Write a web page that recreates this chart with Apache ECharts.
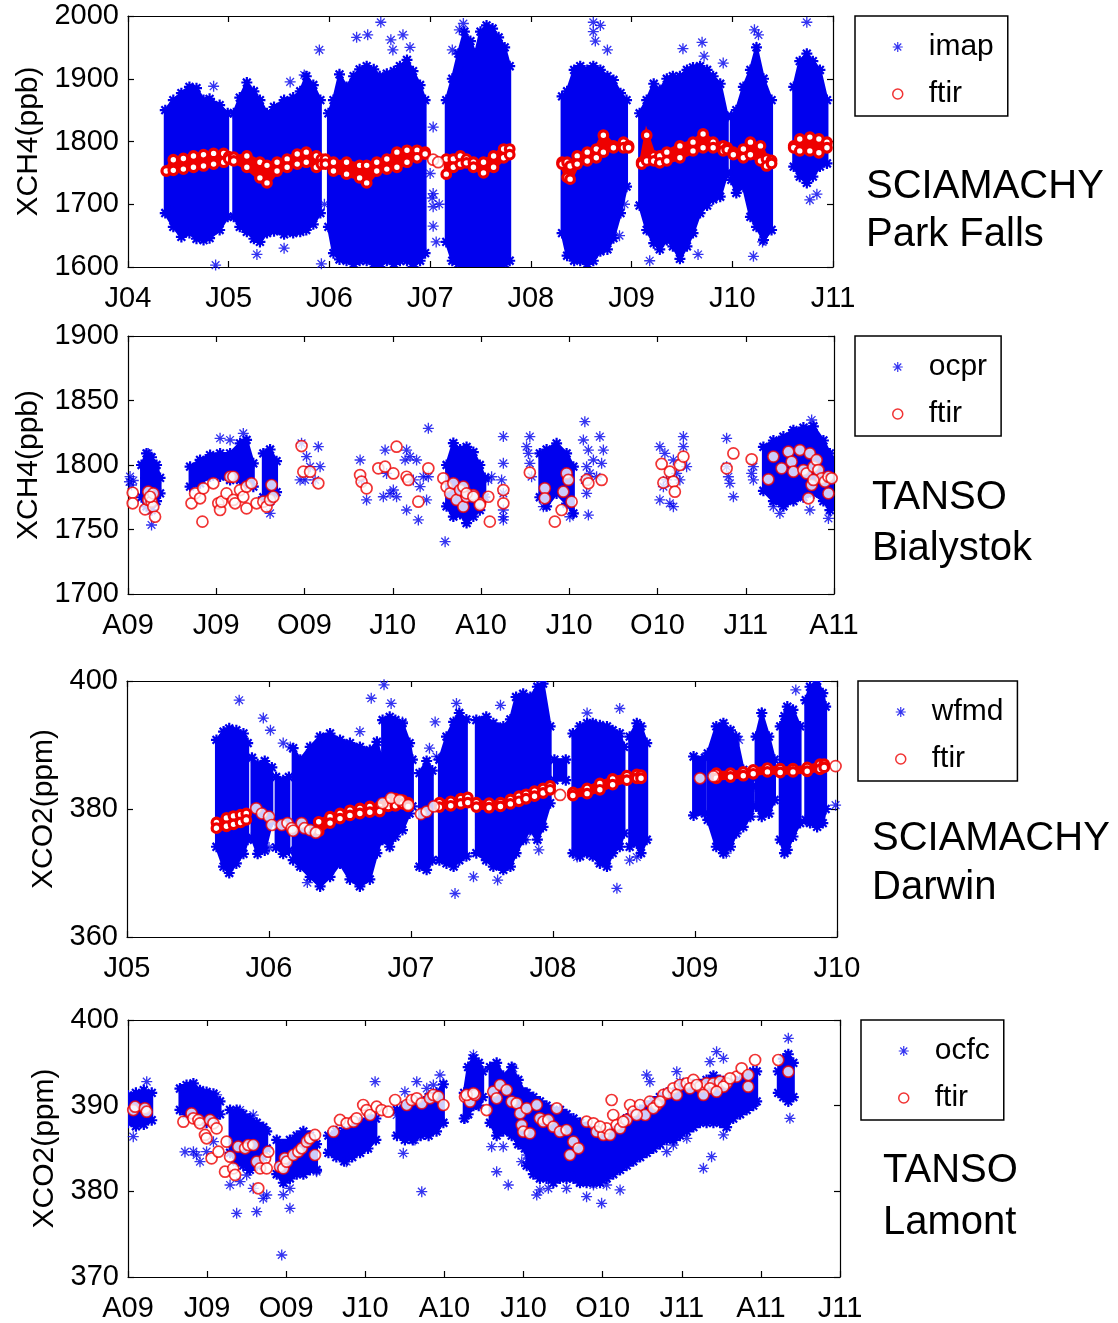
<!DOCTYPE html>
<html><head><meta charset="utf-8">
<script src="https://cdn.jsdelivr.net/npm/echarts@6/dist/echarts.min.js"></script>
<style>html,body{margin:0;padding:0;background:#fff}#c{width:1118px;height:1323px}</style>
</head><body><div id="c"></div>
<script>
// ---------------- DATA ----------------
// Panel 1: SCIAMACHY Park Falls, XCH4 (x = decimal year)
const pfXLabels = ['J04','J05','J06','J07','J08','J09','J10','J11'];
const pfYLabels = ['1600','1700','1800','1900','2000'];
// dense imap clouds: [year, low, high]
const pfImapClouds = [
 [[2004.37,1686,1850],[2004.45,1664,1866],[2004.53,1648,1877],[2004.61,1654,1887],[2004.68,1645,1885],[2004.75,1643,1866],[2004.81,1646,1868],[2004.91,1659,1858],[2004.99,1680,1845]],
 [[2005.05,1680,1845],[2005.11,1664,1870],[2005.18,1656,1894],[2005.25,1645,1880],[2005.31,1640,1866],[2005.38,1654,1845],[2005.45,1657,1855],[2005.55,1652,1866],[2005.64,1654,1870],[2005.71,1656,1880],[2005.77,1659,1904],[2005.84,1668,1890],[2005.91,1686,1866]],
 [[2005.99,1664,1845],[2006.04,1622,1866],[2006.10,1612,1907],[2006.17,1610,1887],[2006.24,1605,1904],[2006.30,1610,1915],[2006.37,1610,1920],[2006.44,1605,1915],[2006.50,1600,1904],[2006.57,1610,1908],[2006.64,1605,1912],[2006.70,1610,1920],[2006.77,1610,1930],[2006.83,1600,1912],[2006.90,1610,1890],[2006.95,1622,1866]],
 [[2007.16,1640,1866],[2007.22,1610,1900],[2007.28,1605,1940],[2007.34,1600,1975],[2007.40,1605,1960],[2007.45,1600,1940],[2007.50,1600,1975],[2007.56,1600,1985],[2007.62,1600,1980],[2007.68,1600,1966],[2007.74,1605,1950],[2007.79,1610,1920]],
 [[2008.31,1654,1872],[2008.36,1618,1880],[2008.43,1610,1914],[2008.49,1610,1920],[2008.56,1605,1914],[2008.62,1610,1920],[2008.69,1625,1914],[2008.76,1628,1904],[2008.82,1646,1898],[2008.89,1686,1877],[2008.95,1728,1866]],
 [[2009.08,1698,1845],[2009.15,1659,1866],[2009.22,1638,1892],[2009.28,1628,1882],[2009.35,1643,1900],[2009.41,1633,1904],[2009.48,1613,1904],[2009.55,1633,1914],[2009.61,1654,1918],[2009.68,1686,1920],[2009.75,1698,1914],[2009.81,1708,1904],[2009.88,1712,1892],[2009.95,1750,1840]],
 [[2009.99,1739,1840],[2010.04,1718,1850],[2010.11,1728,1887],[2010.18,1680,1914],[2010.24,1664,1950],[2010.31,1643,1900],[2010.39,1659,1866]],
 [[2010.61,1760,1887],[2010.67,1744,1928],[2010.74,1734,1940],[2010.80,1744,1928],[2010.87,1760,1914],[2010.94,1765,1866]]
];
const pfImapPoints = [[2004.85,1888],[2004.87,1603],[2004.42,1690],[2005.28,1620],[2005.55,1630],[2005.61,1895],[2005.75,1906],[2005.90,1946],[2005.92,1605],[2005.95,1700],[2006.27,1966],[2006.38,1970],[2006.51,1990],[2006.61,1962],[2006.73,1970],[2006.63,1946],[2006.80,1950],[2007.00,1749],[2007.03,1823],[2007.03,1717],[2007.03,1696],[2007.03,1665],[2007.06,1640],[2007.02,1710],[2007.09,1700],[2007.29,1978],[2007.22,1946],[2007.29,1914],[2007.33,1988],[2008.62,1990],[2008.62,1975],[2008.64,1960],[2008.69,1985],[2008.76,1946],[2008.88,1650],[2008.93,1700],[2009.51,1948],[2009.70,1958],[2009.72,1936],[2009.91,1925],[2009.66,1620],[2009.18,1610],[2010.22,1978],[2010.26,1970],[2010.21,1617],[2010.30,1640],[2010.74,1990],[2010.77,1707],[2010.84,1716]];
// ftir band: [year, low, high] of circle centres
const pfFtirBands = [
 [[2004.38,1753,1753],[2004.45,1754,1771],[2004.55,1756,1773],[2004.65,1759,1777],[2004.75,1761,1779],[2004.85,1764,1781],[2004.95,1767,1781],[2005.00,1772,1776]],
 [[2005.05,1769,1775],[2005.18,1759,1777],[2005.31,1742,1767],[2005.38,1734,1762],[2005.48,1753,1767],[2005.58,1759,1772],[2005.68,1764,1780],[2005.77,1767,1783],[2005.87,1759,1777],[2005.92,1764,1772]],
 [[2005.96,1764,1772],[2006.04,1753,1767],[2006.17,1748,1767],[2006.30,1742,1762],[2006.37,1734,1762],[2006.47,1753,1767],[2006.57,1756,1772],[2006.67,1759,1783],[2006.77,1767,1786],[2006.87,1774,1786],[2006.95,1780,1783]],
 [[2007.16,1748,1772],[2007.23,1759,1772],[2007.30,1764,1777],[2007.36,1766,1772],[2007.43,1759,1767],[2007.53,1750,1767],[2007.63,1759,1777],[2007.73,1774,1788],[2007.79,1779,1788]],
 [[2008.31,1764,1767],[2008.36,1743,1767],[2008.39,1740,1761],[2008.46,1764,1777],[2008.56,1769,1783],[2008.65,1774,1788],[2008.72,1783,1810],[2008.82,1790,1793],[2008.92,1790,1799],[2008.97,1790,1793]],
 [[2009.10,1764,1767],[2009.15,1769,1810],[2009.22,1769,1777],[2009.28,1766,1777],[2009.35,1769,1783],[2009.48,1774,1793],[2009.61,1785,1799],[2009.71,1790,1812],[2009.81,1790,1799],[2009.91,1785,1793],[2009.95,1787,1790]],
 [[2010.01,1779,1783],[2010.11,1774,1788],[2010.18,1779,1799],[2010.28,1769,1793],[2010.34,1761,1772],[2010.39,1765,1770]],
 [[2010.61,1790,1793],[2010.67,1785,1804],[2010.77,1785,1807],[2010.86,1782,1804],[2010.94,1790,1799]]
];
const pfFtirPoints = [[2007.03,1771],[2007.08,1767]];

// Panel 2: TANSO Bialystok, XCH4 (x = months since Jan 2009)
const biXLabels = ['A09','J09','O09','J10','A10','J10','O10','J11','A11'];
const biYLabels = ['1700','1750','1800','1850','1900'];
const biOcprClouds = [
 [[3.46,1775,1800],[3.63,1768,1809],[3.80,1765,1806],[3.97,1772,1800],[4.09,1778,1790]],
 [[5.11,1783.2,1798.7],[5.45,1785.8,1803.9],[5.79,1791,1807.7],[6.13,1791,1809],[6.47,1788.4,1809],[6.81,1788.4,1816.8],[7.03,1785.8,1819.4],[7.26,1783.2,1801.3]],
 [[7.60,1775,1809],[7.83,1772,1812],[8.05,1779,1803]],
 [[13.83,1768,1800],[14.06,1760,1817],[14.29,1762,1812],[14.51,1755,1814],[14.74,1760,1810],[14.96,1765,1800],[15.13,1775,1790]],
 [[17.0,1775,1809],[17.23,1768,1812],[17.57,1778,1816.8],[17.91,1770,1809],[18.14,1762.5,1798.7]],
 [[24.60,1780,1814],[24.94,1772,1819],[25.28,1768,1822],[25.62,1772,1827],[25.96,1775,1829],[26.30,1778,1830],[26.64,1772,1819],[26.86,1765,1809],[27.0,1770,1803]]
];
const biOcprPoints = [[3.07,1791],[3.18,1788],[3.12,1784.5],[3.05,1787],[3.80,1753.5],[3.69,1809],
 [6.13,1820.7],[6.47,1819.4],[6.92,1824.5],[7.83,1762.5],[7.71,1809],
 [8.90,1816.8],[9.07,1806.5],[9.19,1798.7],[9.47,1814.2],[9.53,1798.7],[8.85,1788.4],[9.36,1788.4],[9.02,1788.4],
 [10.89,1803.9],[11.11,1772.9],[10.94,1788.4],
 [11.74,1811.6],[11.79,1793.5],[11.68,1775.4],[12.02,1780.6],[12.13,1775.4],[12.42,1803.9],[12.47,1811.6],[12.59,1806.5],[12.81,1803.9],[12.47,1765.1],[12.87,1757.4],[12.70,1788.4],[12.93,1783.2],[13.15,1772.9],[13.21,1828.4],[13.04,1790.9],[13.21,1790.9],[11.91,1778],
 [13.78,1740.6],
 [15.25,1788.4],[15.36,1790.9],[15.76,1822],[15.76,1801.3],[15.70,1788.4],[15.76,1778],[15.76,1765.1],[15.76,1757.4],[15.76,1759.9],
 [16.66,1822],[16.61,1809],[16.66,1801.3],[16.72,1790.9],[16.55,1814.2],
 [18.02,1759.9],[17.12,1767.7],
 [18.53,1833.6],[18.48,1819.4],[18.65,1811.6],[18.59,1798.7],[18.82,1803.9],[19.04,1822],[19.16,1811.6],[19.10,1801.3],[18.59,1778],[18.65,1761.2],[18.93,1790.9],[18.53,1788.4],[18.70,1793.5],
 [21.08,1814.2],[21.25,1809],[21.54,1803.9],[21.88,1822],[21.88,1814.2],[21.65,1793.5],[21.31,1788.4],[21.08,1772.9],[21.42,1770.3],[21.54,1767.7],[21.99,1798.7],[21.20,1783.2],[21.76,1788.4],
 [23.35,1820.7],[23.35,1798.7],[23.46,1785.8],[23.58,1775.4],[23.41,1790.9],
 [24.26,1798.7],[24.26,1788.4],[24.20,1793.5],
 [26.24,1834.9],[24.94,1767.7],[25.16,1762.5],[26.18,1765.1],[26.81,1758.6]];
const biFtirBands = [];
const biFtirPoints = [[3.16,1778.5],[3.16,1770.3],[3.58,1765.6],[3.69,1779.3],[3.69,1772.9],[3.80,1771.6],[3.86,1767.7],[3.92,1759.9],[3.86,1778.0],[3.75,1775.4],
 [5.16,1770.3],[5.28,1778.0],[5.45,1774.2],[5.56,1781.9],[5.53,1756.1],[5.90,1785.8],[6.07,1770.3],[6.13,1765.1],[6.18,1771.6],[6.35,1778.0],[6.47,1790.9],[6.58,1790.9],[6.58,1772.9],[6.64,1770.3],[6.81,1780.6],[6.92,1775.4],[7.03,1783.2],[7.03,1766.4],[7.20,1785.8],[7.37,1770.3],[7.60,1771.6],[7.71,1767.7],[7.83,1772.9],[7.88,1784.5],[7.94,1775.4],
 [8.90,1814.7],[8.96,1794.8],[9.19,1794.8],[9.47,1785.8],
 [10.89,1792.2],[10.94,1787.1],[11.11,1781.9],[11.51,1797.4],[11.74,1798.7],[12.02,1793.5],[12.13,1814.2],[12.47,1790.9],[12.53,1788.4],[12.87,1771.6],[13.21,1797.4],
 [13.72,1789.7],[13.83,1783.2],[13.95,1778.0],[14.06,1785.8],[14.17,1772.9],[14.29,1780.6],[14.40,1767.7],[14.51,1775.4],[14.74,1776.7],[14.97,1770.3],
 [14.40,1783.2],[14.51,1778.0],[14.74,1775.4],[14.96,1769.0],[15.25,1775.4],[15.30,1756.1],[15.76,1780.6],[15.76,1770.3],
 [16.66,1794.1],[17.17,1781.9],[17.17,1774.2],[17.74,1765.1],[17.51,1756.1],[17.80,1779.3],[17.91,1793.5],[17.97,1788.4],[18.08,1771.6],[18.59,1788.4],[18.65,1785.8],[19.10,1788.4],
 [21.14,1800.8],[21.20,1786.3],[21.42,1794.8],[21.54,1787.1],[21.59,1779.3],[21.76,1800.0],[21.88,1806.5],
 [23.35,1797.4],[23.58,1809.0],[24.20,1804.4],
 [24.77,1788.9],[24.94,1806.5],[25.22,1797.4],[25.45,1810.3],[25.56,1802.6],[25.62,1794.8],[25.84,1811.6],[25.96,1796.1],[26.07,1793.5],[26.18,1809.0],[26.24,1784.5],[26.30,1798.7],[26.41,1803.9],[26.47,1796.1],[26.58,1789.7],[26.69,1787.1],[26.81,1790.9],[26.81,1778.0],[26.92,1789.7],[26.13,1774.2],[26.30,1788.4]];

// Panel 3: SCIAMACHY Darwin, XCO2 (x = decimal year)
const daXLabels = ['J05','J06','J07','J08','J09','J10'];
const daYLabels = ['360','380','400'];
const daWfmdClouds = [
 [[2005.63,374.1,390.8],[2005.68,371.0,392.1],[2005.72,370.0,392.6],[2005.77,371.5,392.3],[2005.82,373.0,391.8],[2005.85,375.2,390.3]],
 [[2005.88,375.5,388.0],[2005.92,373.0,387.0],[2005.97,373.5,387.5],[2006.02,378.0,386.5]],
 [[2006.05,374.0,385.0],[2006.10,373.0,384.5],[2006.14,373.5,385.0]],
 [[2006.17,372.0,389.5],[2006.22,371.0,387.7],[2006.29,369.4,389.7],[2006.36,367.9,391.3],[2006.43,369.4,391.8],[2006.50,371.5,390.8],[2006.57,369.0,390.3],[2006.64,367.9,389.7],[2006.71,369.0,389.2],[2006.76,373.1,390.5],[2006.79,375.2,388.0]],
 [[2006.80,375.2,393.9],[2006.85,374.1,394.4],[2006.89,375.7,393.9],[2006.94,376.7,393.4],[2006.99,379.3,390.3],[2007.01,380.4,387.7]],
 [[2007.06,371.0,385.6],[2007.11,370.5,387.5],[2007.15,372.0,386.0]],
 [[2007.20,372.0,387.7],[2007.25,371.5,391.3],[2007.30,371.0,393.6],[2007.34,372.0,395.0],[2007.39,372.6,394.0]],
 [[2007.46,373.1,393.9],[2007.53,372.0,394.4],[2007.58,371.0,393.4],[2007.65,370.5,392.9],[2007.70,371.0,394.0],[2007.74,373.1,397.5],[2007.79,375.2,398.0],[2007.84,376.7,397.5],[2007.89,375.2,399.1],[2007.93,377.2,399.6],[2007.98,380.9,392.9]],
 [[2008.01,384.5,387.7],[2008.09,384.5,387.7]],
 [[2008.14,373.1,391.8],[2008.19,372.6,392.9],[2008.24,373.1,393.4],[2008.28,372.6,393.4],[2008.33,371.5,393.1],[2008.38,371.0,392.9],[2008.42,373.1,392.3],[2008.47,374.1,391.8],[2008.50,376.2,389.7]],
 [[2008.54,374.1,391.3],[2008.59,374.6,393.4],[2008.62,373.1,392.9],[2008.66,375.2,390.3]],
 [[2008.99,379.0,388.2],[2009.07,379.3,388.0]],
 [[2009.09,378.3,388.7],[2009.15,374.1,392.9],[2009.20,373.1,393.4],[2009.25,374.1,392.3],[2009.29,376.2,391.3],[2009.34,377.2,386.1],[2009.39,378.8,384.5],[2009.41,380.4,383.5]],
 [[2009.43,380.4,391.3],[2009.47,378.8,395.0],[2009.52,379.3,391.3],[2009.56,381.4,387.7]],
 [[2009.60,375.2,392.9],[2009.63,373.1,394.5],[2009.65,373.6,396.0],[2009.69,375.7,395.5],[2009.74,377.8,392.9]],
 [[2009.78,378.3,397.0],[2009.81,377.8,399.1],[2009.86,377.2,400.0],[2009.90,377.8,398.1],[2009.92,380.0,396.0]]
];
const daWfmdPoints = [[2005.79,397.0],[2005.96,394.2],[2006.01,392.3],[2006.10,390.3],[2006.15,389.7],[2006.64,392.1],[2006.72,397.3],[2006.81,399.4],[2006.86,396.5],[2006.94,393.6],[2007.17,393.6],[2007.13,389.5],[2007.32,396.5],[2007.31,366.8],[2007.18,388.2],[2007.44,369.4],[2007.61,368.9],[2007.63,396.2],[2007.90,373.6],[2007.81,375.2],[2008.24,395.0],[2008.47,395.7],[2008.45,367.6],[2008.54,372.0],[2008.17,372.5],[2008.59,372.5],[2009.71,398.6],[2009.99,380.6],[2009.47,395.0],[2009.31,390.8],[2009.22,373.1],[2006.00,374.0],[2006.27,368.5]];
const daFtirBands = [
 [[2005.63,377.0,377.9],[2005.70,377.3,378.6],[2005.75,377.6,378.9],[2005.80,377.9,379.1],[2005.84,378.3,379.3]],
 [[2006.35,376.5,378.0],[2006.43,377.8,378.8],[2006.50,378.5,379.3],[2006.57,379.0,379.8],[2006.64,379.3,380.1],[2006.71,379.5,380.4],[2006.78,379.6,380.4]],
 [[2006.84,380.4,381.2],[2006.89,380.5,381.6],[2006.94,380.8,381.4],[2006.98,380.4,381.0]],
 [[2007.20,380.3,381.0],[2007.28,380.5,381.2],[2007.35,380.8,381.6],[2007.40,381.0,381.8]],
 [[2007.46,380.3,381.0],[2007.55,380.2,380.9],[2007.63,380.4,381.0],[2007.70,380.8,381.5],[2007.76,381.2,382.0],[2007.81,381.6,382.3],[2007.87,382.0,382.8],[2007.93,382.5,383.2],[2007.98,383.0,383.6]],
 [[2008.14,382.1,382.6],[2008.24,382.4,383.2],[2008.33,383.0,384.0],[2008.42,383.8,384.7],[2008.52,384.5,385.2],[2008.59,384.8,385.4],[2008.62,384.8,385.3]],
 [[2009.15,384.8,385.6],[2009.25,385.0,385.6],[2009.34,385.2,385.8],[2009.41,385.5,386.1],[2009.51,385.8,386.4],[2009.60,385.7,386.3],[2009.69,385.8,386.3],[2009.79,385.9,386.5],[2009.88,386.2,387.0],[2009.91,386.5,387.0]]
];
const daFtirPoints = [[2005.91,380.1],[2005.95,379.3],[2006.00,378.8],[2006.02,377.5],[2006.09,377.5],[2006.13,377.8],[2006.16,377.0],[2006.17,376.6],[2006.23,377.8],[2006.25,377.0],[2006.29,376.7],[2006.33,376.3],[2006.80,380.9],[2006.86,381.7],[2006.92,381.4],[2006.98,380.6],[2007.07,379.2],[2007.11,379.6],[2007.16,380.4],[2008.05,382.2],[2009.035,384.8],[2009.13,385.1],[2009.99,386.7]];

// Panel 4: TANSO Lamont, XCO2 (x = months since Jan 2009)
const laXLabels = ['A09','J09','O09','J10','A10','J10','O10','J11','A11','J11'];
const laYLabels = ['370','380','390','400'];
const laOcfcClouds = [
 [[3.0,388.0,391.2],[3.3,387.6,391.5],[3.6,387.8,391.8],[3.9,388.3,391.5]],
 [[4.97,389.5,392.0],[5.22,389.0,392.4],[5.48,389.3,392.6],[5.73,389.0,391.8],[5.98,388.0,391.6],[6.24,388.5,391.4],[6.49,389.0,390.5]],
 [[6.87,384.5,389.5],[7.12,383.5,389.5],[7.37,383.0,389.0],[7.62,382.5,388.5],[7.88,383.0,388.0],[8.13,384.0,387.5],[8.26,385.0,387.0]],
 [[8.64,382.0,386.0],[8.89,381.0,385.5],[9.14,381.5,386.0],[9.40,382.0,386.5],[9.65,382.0,387.0],[9.90,382.5,386.5],[10.15,382.5,385.5]],
 [[10.6,384.5,386.5],[10.9,384.0,387.0],[11.2,383.5,387.0],[11.5,384.0,387.5],[11.8,384.5,388.0],[12.1,385.0,388.5],[12.4,386.0,388.5]],
 [[13.2,386.5,389.5],[13.5,386.0,390.0],[13.8,386.0,390.0],[14.1,386.5,390.5],[14.4,386.5,391.0],[14.7,387.0,391.5],[14.96,388.0,392.5]],
 [[15.75,388.5,391.5],[15.9,389.0,394.5],[16.1,390.0,395.5],[16.3,390.0,395.0],[16.45,391.0,394.0]],
 [[16.73,388.0,394.5],[16.98,386.5,395.0],[17.23,387.0,393.5],[17.55,386.5,394.5],[17.80,385.5,393.0],[18.05,385.0,391.5]],
 [[18.12,383.0,391.5],[18.37,382.0,391.0],[18.62,381.5,390.5],[18.87,381.5,390.0],[19.13,381.0,389.5],[19.38,381.5,389.5],[19.63,381.5,389.0],[19.89,381.5,388.5],[20.14,381.0,388.0],[20.39,381.0,387.5],[20.65,381.0,387.0],[20.90,381.0,386.5],[21.15,381.5,386.5],[21.40,382.0,387.0],[21.66,382.5,387.5],[21.91,383.0,388.5],[22.16,383.5,389.0],[22.42,384.0,389.5],[22.67,384.5,390.0],[22.92,385.0,390.5],[23.17,385.5,391.0],[23.43,386.0,391.5],[23.68,386.0,391.5],[23.93,386.5,392.0],[24.19,387.0,392.0],[24.44,387.5,392.5],[24.69,388.0,392.5],[24.94,388.0,393.0],[25.20,388.0,393.5],[25.45,388.0,393.0],[25.70,387.5,392.5],[25.95,388.5,392.5],[26.21,389.0,393.0],[26.46,389.5,393.5],[26.71,390.0,394.0],[26.84,390.5,394.0]],
 [[27.66,391.5,394.0],[27.85,391.0,395.5],[28.04,390.5,396.0],[28.23,391.0,395.0]]
];
const laOcfcPoints = [[3.20,386.38],[3.71,392.80],[3.77,388.33],
 [5.48,384.63],[5.73,383.46],[5.98,384.63],[6.24,385.80],[5.60,384.24],[5.16,384.6],[6.36,391.25],
 [6.87,380.74],[7.25,381.13],[7.75,380.35],[7.50,381.91],[7.12,377.43],[7.88,377.63],[8.13,379.18],[8.26,379.57],[7.75,388.9],[7.25,389.5],
 [9.14,380.35],[9.14,378.02],[8.83,372.57],[10.15,382.29],[8.89,379.6],[9.02,381.9],
 [12.37,392.80],[11.29,383.46],[10.91,386.19],[12.18,387.35],
 [13.50,391.63],[14.83,393.58],[14.58,392.41],[14.33,392.02],[13.95,392.80],[13.44,384.44],[13.88,386.0],[14.14,379.96],[13.19,388.91],
 [15.78,388.52],[16.10,395.92],
 [16.79,385.21],[17.23,385.21],[16.98,382.29],[17.42,380.74],[17.93,383.46],[18.12,384.24],[17.61,394.36],
 [18.50,379.57],[18.94,380.35],[19.63,380.35],[18.62,380.16],[19.76,381.91],
 [20.39,379.38],[20.96,378.60],[21.66,380.16],[20.65,380.74],[21.15,380.74],[20.14,381.13],
 [22.67,393.58],[22.79,392.80],[23.43,384.63],[23.68,385.41],[23.81,393.97],[23.93,392.8],[24.19,386.19],
 [25.07,395.14],[25.32,396.30],[25.58,395.53],[25.58,386.58],[24.82,382.68],[25.13,384.05],[26.34,392.02],
 [28.04,397.86],[28.10,388.52]];
const laFtirBands = [];
const laFtirPoints = [[3.20,389.49],[3.27,389.88],[3.64,389.69],[3.71,389.30],
 [5.10,388.13],[5.41,389.10],[5.48,388.52],[5.67,388.33],[5.73,387.94],[5.92,386.58],[5.98,386.19],[6.11,388.33],[6.24,387.94],[6.36,387.35],[6.17,383.85],[6.43,384.63],[6.68,382.29],[6.74,385.80],[6.87,384.05],[6.99,382.68],[7.06,381.91],[7.18,385.21],[7.44,385.02],[7.56,385.41],[7.75,385.41],[7.88,383.46],[7.94,380.35],[8.01,382.68],[8.20,383.85],[8.26,382.68],[8.32,384.63],
 [8.76,382.88],[8.89,382.68],[8.95,383.85],[9.02,383.46],[9.27,384.24],[9.46,384.63],[9.59,385.02],[9.78,385.80],[9.90,386.19],[10.09,386.58],[10.09,384.24],
 [10.79,386.96],[11.04,388.33],[11.29,387.94],[11.55,388.13],[11.67,388.52],[11.92,390.08],[12.05,389.49],[12.18,388.91],[12.43,389.88],[12.62,389.49],[12.87,389.30],
 [13.13,390.66],[13.57,390.08],[13.76,390.66],[13.95,390.86],[14.14,390.27],[14.45,390.86],[14.58,391.25],[14.77,391.05],[14.96,390.08],
 [15.78,391.05],[15.97,390.47],[16.16,391.25],[15.84,391.25],[16.10,391.44],[16.60,389.49],[16.85,391.63],[16.98,390.86],[17.11,392.41],[17.36,391.83],[17.55,390.47],[17.74,390.27],[17.87,389.10],[17.93,387.74],[17.99,386.96],[18.24,386.77],[18.12,389.69],[18.50,390.08],[18.62,388.52],[18.75,388.13],[18.94,388.33],[19.13,387.55],[19.26,389.69],[19.38,386.96],[19.63,387.16],[19.89,385.80],[19.76,384.24],[20.08,385.02],[20.39,388.13],[20.65,387.94],[20.77,386.96],[21.03,386.58],[21.15,387.35],[21.34,390.66],[21.40,388.91],[21.53,387.74],[21.66,387.35],[21.91,388.33],[22.04,390.08],[22.16,389.30],[22.42,390.08],[22.61,388.91],[22.79,390.47],[23.05,390.08],[23.30,391.25],[23.49,391.44],[23.68,392.02],[23.93,392.41],[24.19,392.61],[24.44,393.00],[24.69,392.22],[24.94,392.61],[25.20,392.61],[25.45,392.80],[25.70,392.61],[26.08,393.39],[26.27,394.36],[26.52,393.58],[26.52,392.22],[26.78,395.33],[27.66,395.33],[28.04,393.97],
 [20.90,387.55],[21.28,386.58],[21.78,388.13],[22.29,388.91],[22.92,389.69],[23.17,390.47],[23.81,391.25],[24.31,392.02],[24.57,392.41],[25.07,392.02],[25.58,392.22],[25.83,393.19],[24.82,391.25],[25.32,391.63]];

// ---------------- STYLE / LAYOUT ----------------
const BLUE = '#0000ee', RED = '#ee0000', FONT = '"Liberation Sans", Arial, Helvetica, sans-serif';
const ASTER = 'path://M8.8,0h2.4v20h-2.4z M0,8.8h20v2.4h-20z M2.15,3.85L3.85,2.15L17.85,16.15L16.15,17.85z M16.15,2.15L17.85,3.85L3.85,17.85L2.15,16.15z';

const panels = [
 {grid:{left:128,top:16,width:705,height:251}, x:[2004,2011,1], xl:pfXLabels, y:[1600,2000,100], yl:pfYLabels, yName:'XCH4(ppb)', nameGap:84,
  blue:'imap', clouds:pfImapClouds, bpts:pfImapPoints, bands:pfFtirBands, rpts:pfFtirPoints,
  legend:{left:855, top:16}, note:{left:866, top:163, lh:48, text:'SCIAMACHY\nPark Falls'}},
 {grid:{left:128,top:336,width:706,height:258}, x:[3,27,3], xl:biXLabels, y:[1700,1900,50], yl:biYLabels, yName:'XCH4(ppb)', nameGap:84,
  blue:'ocpr', clouds:biOcprClouds, bpts:biOcprPoints, bands:biFtirBands, rpts:biFtirPoints,
  legend:{left:855, top:336}, note:{left:872, top:472, lh:51, text:'TANSO\nBialystok'}},
 {grid:{left:127,top:681,width:710,height:256}, x:[2005,2010,1], xl:daXLabels, y:[360,400,20], yl:daYLabels, yName:'XCO2(ppm)', nameGap:68,
  blue:'wfmd', clouds:daWfmdClouds, bpts:daWfmdPoints, bands:daFtirBands, rpts:daFtirPoints,
  legend:{left:858, top:681}, note:{left:872, top:814, lh:49, text:'SCIAMACHY\nDarwin'}},
 {grid:{left:128,top:1020,width:712,height:257}, x:[3,30,3], xl:laXLabels, y:[370,400,10], yl:laYLabels, yName:'XCO2(ppm)', nameGap:64,
  blue:'ocfc', clouds:laOcfcClouds, bpts:laOcfcPoints, bands:laFtirBands, rpts:laFtirPoints,
  legend:{left:861, top:1020}, note:{left:883, top:1145, lh:52, text:'TANSO\nLamont'}}
];

function cloudRenderer(clouds, kind) {
  return function (params, api) {
    const c = clouds[api.value(2)];
    const top = c.map(p => api.coord([p[0], p[2]]));
    const bot = c.map(p => api.coord([p[0], p[1]]));
    const poly = top.concat(bot.slice().reverse());
    const color = kind === 'star' ? BLUE : RED;
    const kids = [{type:'polygon', shape:{points:poly}, style:{fill:color, stroke:color, lineWidth: kind === 'star' ? 3 : 5}}];
    if (kind === 'star') {
      let d = '';
      const a = 5.5, b = 3.9;
      poly.forEach(q => {
        const x = q[0], y = q[1];
        d += 'M'+(x-a)+' '+y+'L'+(x+a)+' '+y+'M'+x+' '+(y-a)+'L'+x+' '+(y+a)+
             'M'+(x-b)+' '+(y-b)+'L'+(x+b)+' '+(y+b)+'M'+(x-b)+' '+(y+b)+'L'+(x+b)+' '+(y-b);
      });
      kids.push({type:'path', shape:{pathData:d}, style:{fill:'none', stroke:color, lineWidth:2.2}});
    } else {
      c.forEach((p, i) => {
        kids.push({type:'circle', shape:{cx:top[i][0], cy:top[i][1], r:4.3}, style:{fill:'#fff', stroke:RED, lineWidth:3.2}});
        if (p[2] !== p[1]) kids.push({type:'circle', shape:{cx:bot[i][0], cy:bot[i][1], r:4.3}, style:{fill:'#fff', stroke:RED, lineWidth:3.2}});
      });
    }
    return {type:'group', children:kids};
  };
}

const axisLineStyle = {show:true, onZero:false, lineStyle:{color:'#000', width:1.2}};
const tickStyle = {show:true, inside:true, length:6, lineStyle:{color:'#000', width:1.2}};
const option = {animation:false, backgroundColor:'#fff', grid:[], xAxis:[], yAxis:[], series:[], legend:[], graphic:[]};

panels.forEach((p, k) => {
  option.grid.push(Object.assign({containLabel:false, outerBoundsMode:'none'}, p.grid));
  const xl = p.xl, yl = p.yl;
  const xBase = {type:'value', gridIndex:k, min:p.x[0], max:p.x[1], interval:p.x[2], splitLine:{show:false}, axisLine:axisLineStyle, axisTick:tickStyle};
  option.xAxis.push(Object.assign({}, xBase, {position:'bottom',
    axisLabel:{show:true, margin:17, fontSize:29, lineHeight:30, color:'#000', fontFamily:FONT, showMinLabel:true, showMaxLabel:true, hideOverlap:false,
      formatter: v => xl[Math.round((v - p.x[0]) / p.x[2])]}}));
  option.xAxis.push(Object.assign({}, xBase, {position:'top', axisLabel:{show:false}}));
  const yBase = {type:'value', gridIndex:k, min:p.y[0], max:p.y[1], interval:p.y[2], splitLine:{show:false}, axisLine:axisLineStyle, axisTick:tickStyle};
  option.yAxis.push(Object.assign({}, yBase, {position:'left', name:p.yName, nameLocation:'middle', nameGap:p.nameGap,
    nameTextStyle:{fontSize:30, lineHeight:30, color:'#000', fontFamily:FONT},
    axisLabel:{show:true, margin:9, fontSize:29, color:'#000', fontFamily:FONT, showMinLabel:true, showMaxLabel:true,
      formatter: v => yl[Math.round((v - p.y[0]) / p.y[2])]}}));
  option.yAxis.push(Object.assign({}, yBase, {position:'right', axisLabel:{show:false}}));

  const ax = {xAxisIndex:2*k, yAxisIndex:2*k};
  option.series.push(Object.assign({type:'custom', name:p.blue+' cloud', coordinateSystem:'cartesian2d', clip:true, silent:true, z:1,
    renderItem: cloudRenderer(p.clouds, 'star'), encode:{x:0, y:1},
    data: p.clouds.map((c, i) => [c[0][0], c[0][1], i])}, ax));
  option.series.push(Object.assign({type:'scatter', name:p.blue, data:p.bpts, symbol:ASTER, symbolSize:11, clip:true, silent:true, z:2,
    itemStyle:{color:BLUE}}, ax));
  if (p.bands.length) option.series.push(Object.assign({type:'custom', name:'ftir band', coordinateSystem:'cartesian2d', clip:true, silent:true, z:3,
    renderItem: cloudRenderer(p.bands, 'circle'), encode:{x:0, y:1},
    data: p.bands.map((c, i) => [c[0][0], c[0][1], i])}, ax));
  option.series.push(Object.assign({type:'scatter', name:'ftir', data:p.rpts, symbol:'circle', symbolSize:11, clip:true, silent:true, z:4,
    itemStyle:{color:'#fff', borderColor:RED, borderWidth:1.7}}, ax));

  option.legend.push({left:p.legend.left, top:p.legend.top, orient:'vertical', selectedMode:false,
    padding:[14,14,5,37], itemGap:13, itemWidth:52, itemHeight:10, borderColor:'#000', borderWidth:1.5, backgroundColor:'#fff',
    textStyle:{fontSize:30, lineHeight:34, color:'#000', fontFamily:FONT},
    data:[{name:p.blue, icon:ASTER, itemStyle:{color:BLUE}},
          {name:'ftir', icon:'circle', itemStyle:{color:'#fff', borderColor:RED, borderWidth:1.5}}]});
  option.graphic.push({type:'text', left:p.note.left, top:p.note.top, silent:true,
    style:{text:p.note.text, fontSize:40, lineHeight:p.note.lh, fontFamily:FONT, fill:'#000'}});
});

const chart = echarts.init(document.getElementById('c'), null, {renderer:'canvas'});
chart.setOption(option);
</script></body></html>
